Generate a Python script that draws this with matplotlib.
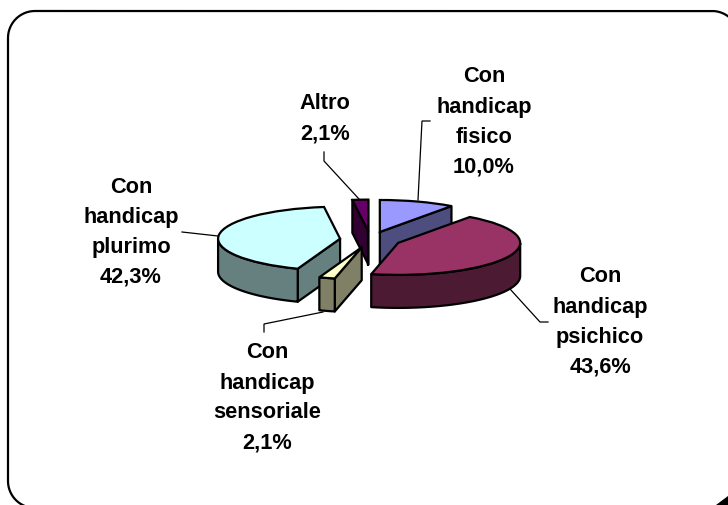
import numpy as np
import matplotlib
matplotlib.use("Agg")
import matplotlib.pyplot as plt
from matplotlib.patches import Polygon, PathPatch
from matplotlib.path import Path

categories = ["Con handicap fisico", "Con handicap psichico",
              "Con handicap sensoriale", "Con handicap plurimo", "Altro"]
values = [10.0, 43.6, 2.1, 42.3, 2.1]
value_labels = ["10,0%", "43,6%", "2,1%", "42,3%", "2,1%"]
label_lines = [["Con", "handicap", "fisico"], ["Con", "handicap", "psichico"],
               ["Con", "handicap", "sensoriale"], ["Con", "handicap", "plurimo"], ["Altro"]]

top_colors = ["#9999FF", "#993366", "#FFFFCC", "#CCFFFF", "#660066"]
side_colors = ["#4D4D80", "#4D1A33", "#808066", "#668080", "#330033"]
slice_z = [2, 5, 4, 3, 1]

W, H = 728, 506
label_x = [484, 600, 267, 131, 325]
label_y = [[76, 107, 137, 167], [277, 308, 337, 367], [353, 383, 413, 443],
           [187, 217, 247, 277], [103, 134]]
leaders = [[(418, 201), (422, 122), (430, 122)],
           [(510, 290), (540, 323), (548, 323)],
           [(323, 313), (264, 325), (264, 333)],
           [(218, 237), (182, 233)],
           [(359, 200), (324, 162), (324, 153)]]

fig = plt.figure(figsize=(W / 100, H / 100), dpi=100, facecolor="white")

# pie axes: one x unit = 122 px, one y unit = 32 px
RX, RY, CX, CY = 122.0, 32.0, 370.4, 240.6
DEPTH = 33.0 / RY
ax = fig.add_axes([0, 0, 1, 1])
wedges, _ = ax.pie(values, explode=[0.25] * len(values), startangle=90, counterclock=False,
                   colors=top_colors, radius=1,
                   wedgeprops=dict(edgecolor="black", linewidth=1.6))
ax.set_box_aspect(None)
ax.set_aspect("auto")
ax.set_xlim(-CX / RX, (W - CX) / RX)
ax.set_ylim((CY - H) / RY, CY / RY)
ax.axis("off")


def wall(points, color, z):
    pts = np.asarray(points)
    low = pts[::-1] - [0, DEPTH]
    ax.add_patch(Polygon(np.vstack([pts, low]), closed=True, facecolor=color,
                         edgecolor="black", linewidth=1.6, joinstyle="round", zorder=z))


for w, col, z in zip(wedges, side_colors, slice_z):
    c = np.array(w.center)
    t1, t2 = np.radians(w.theta1), np.radians(w.theta2)
    th = np.linspace(t2, t1, 200)            # clockwise walk along the rim
    arc = c + np.c_[np.cos(th), np.sin(th)] * w.r
    for a, b in ((c, arc[0]), (arc[-1], c)):  # radial walls facing the viewer
        if b[0] < a[0]:
            wall([a, b], col, z)
    vis = arc[np.sin(th) < 0]
    if len(vis) > 1:
        wall(vis, col, z + 0.1)
    w.set_zorder(z + 0.2)

# overlay in pixel coordinates: frame, leader lines, labels
ov = fig.add_axes([0, 0, 1, 1], facecolor="none")
ov.set_xlim(0, W)
ov.set_ylim(H, 0)
ov.axis("off")


def frame_path(x0, y0, x1, y1, r):
    pts = []
    corners = [(x0 + r, y0 + r, 180, 270), (x1 - r, y0 + r, 270, 360),
               (x1 - r, y1 - r, 0, 90), (x0 + r, y1 - r, 90, 180)]
    for cx, cy, a0, a1 in corners:
        t = np.radians(np.linspace(a0, a1, 40))
        pts.extend(zip(cx + r * np.cos(t), cy + r * np.sin(t)))
    pts.append(pts[0])
    return Path(pts)


ov.add_patch(PathPatch(frame_path(8, 12, 739, 509, 27), facecolor="none",
                       edgecolor="black", linewidth=1.6))
ov.add_patch(Polygon([(716, 506), (728, 506), (728, 497)], closed=True,
                     facecolor="black", edgecolor="none"))

for pts in leaders:
    xs, ys = zip(*pts)
    ov.plot(xs, ys, color="black", lw=0.9, solid_joinstyle="miter")

for lines, pct, x, ys in zip(label_lines, value_labels, label_x, label_y):
    for txt, y in zip(lines + [pct], ys):
        ov.text(x, y, txt, ha="center", va="center", fontsize=15.7, fontweight="bold",
                family="Liberation Sans", color="black")

fig.savefig("out.png", dpi=100, facecolor="white")
